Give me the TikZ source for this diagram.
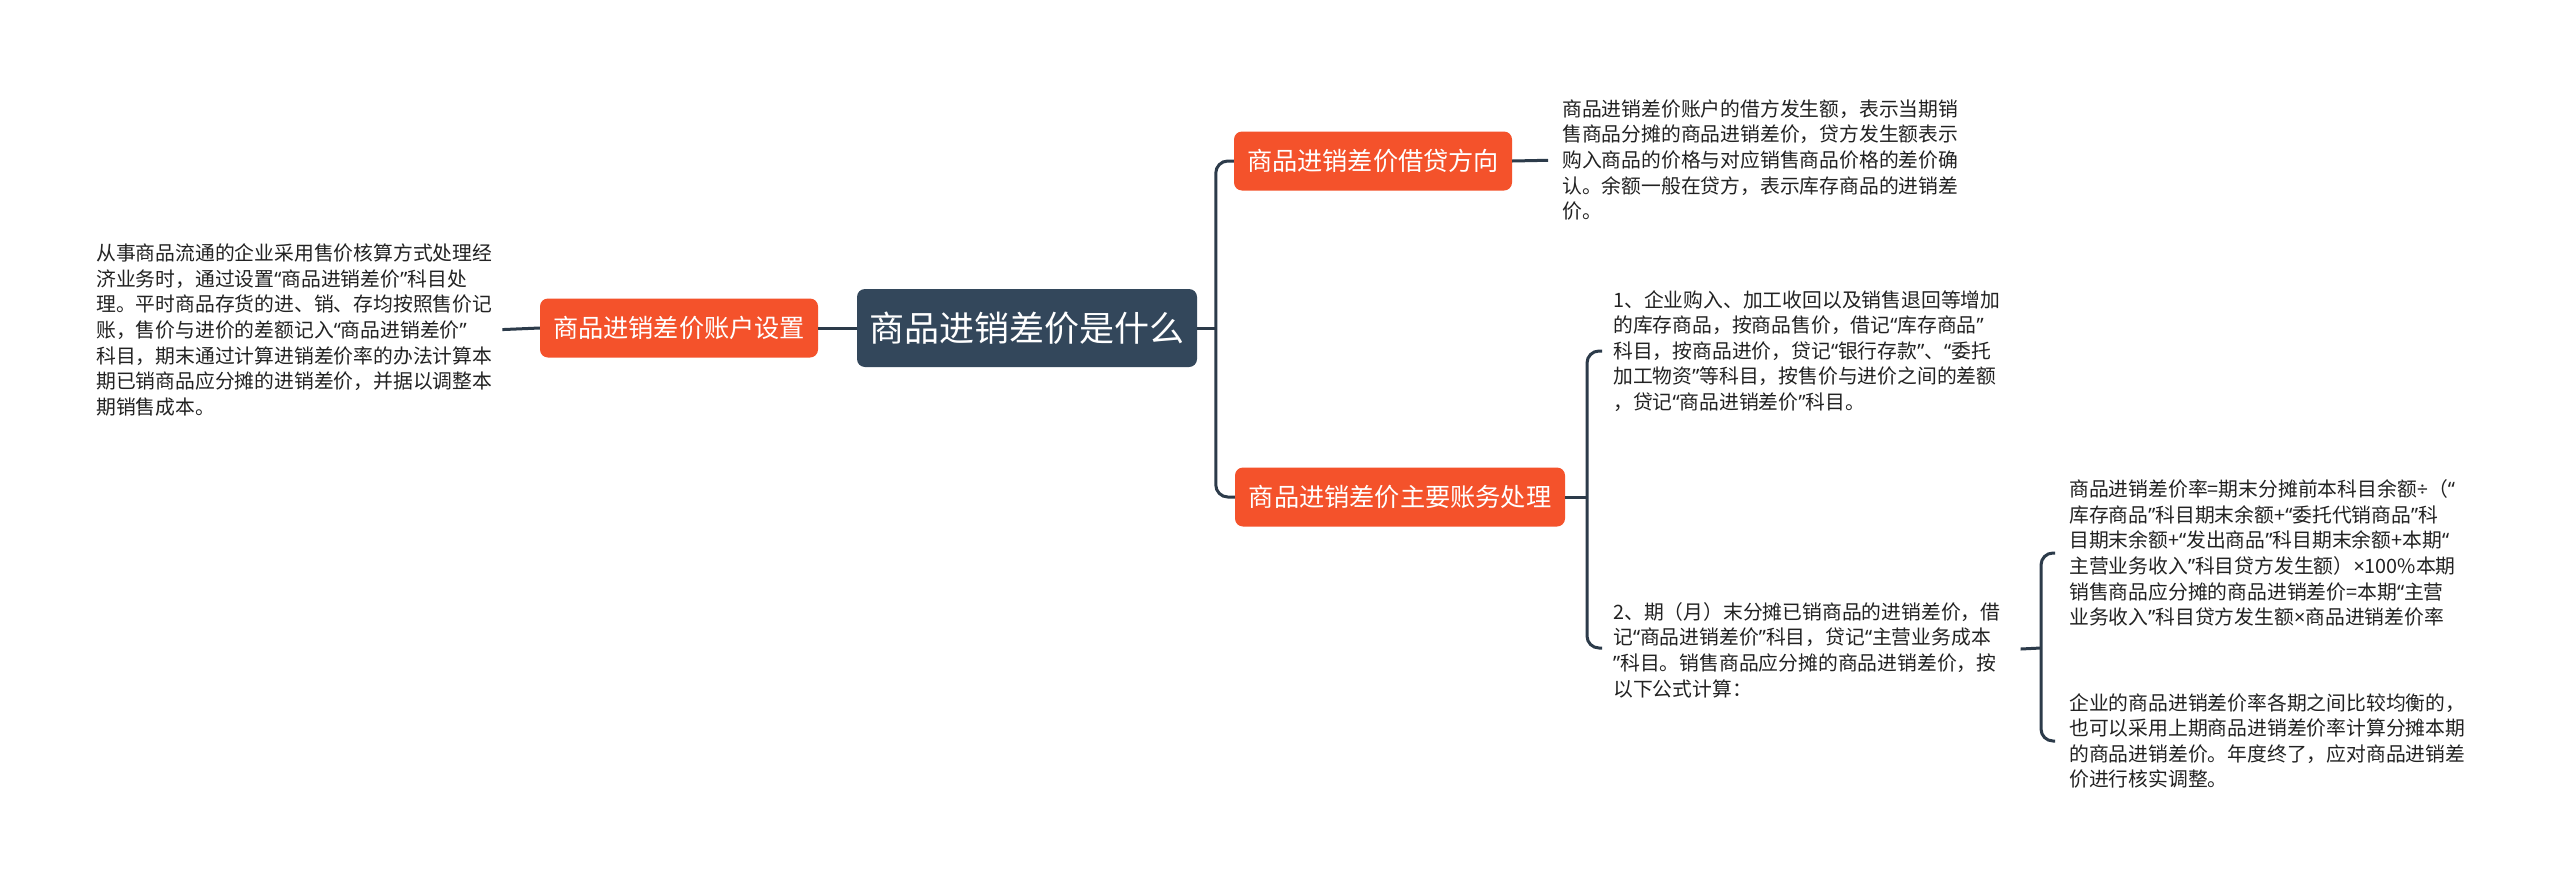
\documentclass[tikz,border=0pt]{standalone}
\usepackage{fontspec}
\setmainfont{Noto Sans CJK SC}
\newfontfamily\qfont{Noto Sans}
\catcode`“=\active \protected\def“{{\qfont\char"201C}}
\catcode`”=\active \protected\def”{{\qfont\char"201D}}
\newcommand{\nx}{{\qfont\char"00D7}}
\newcommand{\nd}{{\qfont\char"00F7}}
\definecolor{orangec}{HTML}{F4522B}
\definecolor{darkc}{HTML}{33475B}
\definecolor{linec}{HTML}{2C3B4A}
\definecolor{textc}{HTML}{222222}
\tikzset{
  rootbox/.style={fill=darkc, text=white, rounded corners=8pt, font=\fontsize{35}{42}\selectfont, minimum width=340pt, minimum height=78pt, inner sep=0pt},
  orangebox/.style={fill=orangec, text=white, rounded corners=8pt, font=\fontsize{25.2}{30}\selectfont, minimum height=59pt, inner sep=0pt},
  txt/.style={font=\fontsize{19.8}{25.6}\selectfont, align=left, inner sep=0pt, text=textc, anchor=west},
  conn/.style={draw=linec, line width=3pt},
}
\begin{document}
\begin{tikzpicture}[x=1pt,y=-1pt]
\useasboundingbox (0,0) rectangle (2560,889);
\fill[white] (0,0) rectangle (2560,889);

\node[rootbox] (root) at (1027,328) {商品进销差价是什么};
\node[orangebox, minimum width=278pt] (left) at (679,328) {商品进销差价账户设置};
\node[orangebox, minimum width=278pt] (topR) at (1373,161) {商品进销差价借贷方向};
\node[orangebox, minimum width=330pt] (botR) at (1400,497) {商品进销差价主要账务处理};

\node[txt] (leftText) at (96,330) {从事商品流通的企业采用售价核算方式处理经\\济业务时，通过设置“商品进销差价”科目处\\理。平时商品存货的进、销、存均按照售价记\\账，售价与进价的差额记入“商品进销差价”\\科目，期末通过计算进销差价率的办法计算本\\期已销商品应分摊的进销差价，并据以调整本\\期销售成本。};

\node[txt] (topText) at (1562,160) {商品进销差价账户的借方发生额，表示当期销\\售商品分摊的商品进销差价，贷方发生额表示\\购入商品的价格与对应销售商品价格的差价确\\认。余额一般在贷方，表示库存商品的进销差\\价。};

\node[txt] (t1) at (1613,351) {1、企业购入、加工收回以及销售退回等增加\\的库存商品，按商品售价，借记“库存商品”\\科目，按商品进价，贷记“银行存款”、“委托\\加工物资”等科目，按售价与进价之间的差额\\，贷记“商品进销差价”科目。};

\node[txt] (t2) at (1613,650) {2、期（月）末分摊已销商品的进销差价，借\\记“商品进销差价”科目，贷记“主营业务成本\\”科目。销售商品应分摊的商品进销差价，按\\以下公式计算：};

\node[txt] (t3) at (2069,553) {商品进销差价率=期末分摊前本科目余额\nd{}（“\\库存商品”科目期末余额+“委托代销商品”科\\目期末余额+“发出商品”科目期末余额+本期“\\主营业务收入”科目贷方发生额）\nx{}100\%本期\\销售商品应分摊的商品进销差价=本期“主营\\业务收入”科目贷方发生额\nx{}商品进销差价率};

\node[txt] (t4) at (2069,741) {企业的商品进销差价率各期之间比较均衡的，\\也可以采用上期商品进销差价率计算分摊本期\\的商品进销差价。年度终了，应对商品进销差\\价进行核实调整。};

% junction coordinates
\coordinate (j1) at (1216,328);
\coordinate (j2) at (1587,497);
\coordinate (j3) at (2041,648);
\coordinate (b1) at (1602,351);
\coordinate (b2) at (1602,648);
\coordinate (b3) at (2055,553);
\coordinate (b4) at (2055,741);

\draw[conn] (root.west) -- (left.east);
\draw[conn, shorten >=10pt] (left.west) -- (leftText.east);
\draw[conn] (root.east) -- (j1);
\draw[conn, rounded corners=12pt] (topR.west) -- ++(-18,0) |- (botR.west);
\draw[conn, shorten >=14pt] (topR.east) -- (topText.west);
\draw[conn] (botR.east) -- (j2);
\draw[conn, rounded corners=12pt] (b1) -| (j2) |- (b2);
\draw[conn, shorten <=20pt] (t2.east) -- (j3);
\draw[conn, rounded corners=12pt] (b3) -| (j3) |- (b4);
\end{tikzpicture}
\end{document}
